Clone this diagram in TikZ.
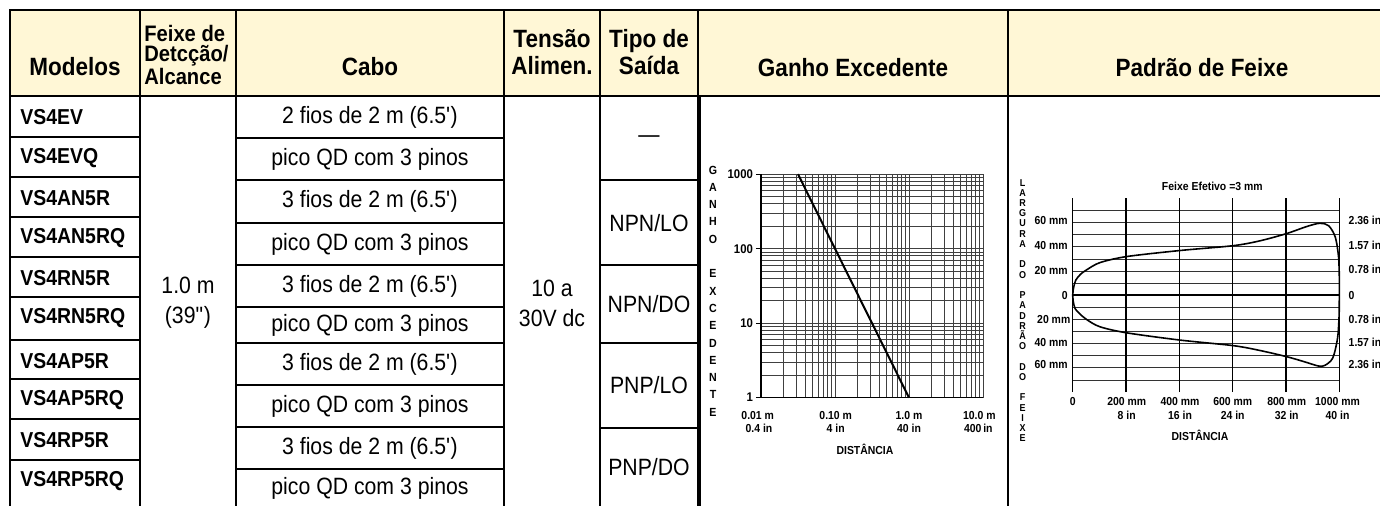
\documentclass[tikz,border=0pt]{standalone}
\usepackage{fontspec}
\setmainfont{Liberation Sans}[FakeStretch=0.9]
\definecolor{hdrfill}{RGB}{255,247,214}
\tikzset{
  cell/.style={draw=black,line width=1.1pt},
  hdrtxt/.style={font=\fontsize{12.5}{13.3}\selectfont\bfseries,inner sep=0pt,align=center},
  modeltxt/.style={font=\fontsize{10.8}{12}\selectfont\bfseries,inner sep=0pt,anchor=west},
  celltxt/.style={font=\fontsize{11.8}{15}\selectfont,inner sep=0pt,align=center},
  axtxt/.style={font=\fontsize{5.8}{6}\selectfont\bfseries,inner sep=0pt},
  stacktxt/.style={inner sep=0pt,align=center},
  gridline/.style={draw=black!75,line width=0.45pt},
}
\begin{document}
\begin{tikzpicture}[x=0.5pt,y=-0.5pt]
 \useasboundingbox (0,0) rectangle (1380,506);
 \clip (0,0) rectangle (1380,506);
 % header row
 \draw[cell,fill=hdrfill] (10,10) rectangle (1420,96);
 \foreach \xx in {140,236,504,600,698,1008}
   \draw[cell] (\xx,10) -- (\xx,96);
 \node[hdrtxt] (hmod) at (75,67) {Modelos};
 \node[hdrtxt,align=left,anchor=west,font=\fontsize{11.2}{10.2}\selectfont\bfseries] (hfeixe) at (144,55) {Feixe de\\Detcção/\\Alcance};
 \node[hdrtxt] (hcabo) at (370,67) {Cabo};
 \node[hdrtxt] (htensao) at (552,52) {Tensão\\Alimen.};
 \node[hdrtxt] (htipo) at (649,52) {Tipo de\\Saída};
 \node[hdrtxt] (hganho) at (853,68) {Ganho Excedente};
 \node[hdrtxt] (hpadrao) at (1202,68) {Padrão de Feixe};
 % body columns
 \draw[cell] (140,96) rectangle (236,530);
 \draw[cell] (504,96) rectangle (600,530);
 \draw[cell] (700,96) rectangle (1008,530);
 \draw[cell] (1008,96) rectangle (1420,530);
 % models
 \foreach \nm/\ya/\yb [count=\i] in {VS4EV/96/137,VS4EVQ/137/177,VS4AN5R/177/217,VS4AN5RQ/217/257,
   VS4RN5R/257/297,VS4RN5RQ/297/340,VS4AP5R/340/379,VS4AP5RQ/379/419,VS4RP5R/419/460,VS4RP5RQ/460/530}{
   \draw[cell] (10,\ya) rectangle (140,\yb);
   \node[modeltxt] (m\i) at (20,{\ya+21}) {\nm};
 }
 % cables
 \foreach \cb/\ya/\yb/\ty [count=\i] in {2 fios de 2 m (6.5\textquotesingle)/96/138/117,pico QD com 3 pinos/138/180/159,
   3 fios de 2 m (6.5\textquotesingle)/180/223/201,pico QD com 3 pinos/223/265/244,3 fios de 2 m (6.5\textquotesingle)/265/307/286,
   pico QD com 3 pinos/307/343/325,3 fios de 2 m (6.5\textquotesingle)/343/385/364,pico QD com 3 pinos/385/427/406,
   3 fios de 2 m (6.5\textquotesingle)/427/469/448,pico QD com 3 pinos/469/530/488}{
   \draw[cell] (236,\ya) rectangle (504,\yb);
   \node[celltxt] (c\i) at (370,\ty) {\cb};
 }
 \node[celltxt] (range) at (188,303) {1.0 m\\(39\textquotedbl)};
 \node[celltxt] (volt) at (552,303) {10 a\\30V dc};
 % output types
 \draw[cell] (600,96) rectangle (698,180);
 \draw[cell] (600,180) rectangle (698,265);
 \draw[cell] (600,265) rectangle (698,343);
 \draw[cell] (600,343) rectangle (698,428);
 \draw[cell] (600,428) rectangle (698,530);
 \node[celltxt] (t1) at (649,139) {\textemdash};
 \node[celltxt] (t2) at (649,223) {NPN/LO};
 \node[celltxt] (t3) at (649,304) {NPN/DO};
 \node[celltxt] (t4) at (649,385) {PNP/LO};
 \node[celltxt] (t5) at (649,467) {PNP/DO};
 % excess gain chart
 \begin{scope}[shift={(761,397.7)},x=37pt,y=37.25pt]
   \foreach \e in {0,1,2}
     \foreach \k in {1,...,9}{
       \draw[gridline] ({\e+log10(\k)},0) -- ({\e+log10(\k)},3);
       \draw[gridline] (0,{\e+log10(\k)}) -- (3,{\e+log10(\k)});
     }
   \draw[gridline] (3,0) -- (3,3);
   \draw[gridline] (0,3) -- (3,3);
   \draw[line width=0.6pt] (0,3) -- (0,0) -- (3,0);
   \foreach \t in {0,1,2,3}
     \draw[line width=0.5pt] (-0.07,\t) -- (0,\t);
   \draw[line width=1pt] (0.5,3) -- (2,0);
 \end{scope}
 \node[stacktxt,font=\fontsize{5.9}{8.65}\selectfont\bfseries] (gstack) at (713,291)
   {G\\A\\N\\H\\O\\ \\E\\X\\C\\E\\D\\E\\N\\T\\E};
 \foreach \v/\yy in {1000/174.3,100/249,10/323.3,1/397.3}
   \node[axtxt,anchor=east,font=\fontsize{6.3}{6}\selectfont\bfseries] (gy\v) at (753.3,\yy) {\v};
 \node[axtxt] (gx1) at (757.7,416) {0.01 m};
 \node[axtxt] (gx1i) at (759,428.3) {0.4 in};
 \node[axtxt] (gx2) at (835.7,416) {0.10 m};
 \node[axtxt] (gx2i) at (835.7,428.3) {4 in};
 \node[axtxt] (gx3) at (909,416) {1.0 m};
 \node[axtxt] (gx3i) at (909,428.3) {40 in};
 \node[axtxt] (gx4) at (979.3,416) {10.0 m};
 \node[axtxt] (gx4i) at (978.3,428.3) {400\,in};
 \node[axtxt] (gdist) at (865,449.3) {DISTÂNCIA};
 % beam pattern chart
 \begin{scope}[shift={(1072.7,295.3)},x=0.1333pt,y=0.605pt]
   \foreach \h in {-70,-60,...,70}
     \draw[gridline,draw=black!80] (0,\h) -- (1000,\h);
   \foreach \v in {0,200,...,1000}
     \draw[line width=0.6pt] (\v,-80) -- (\v,80);
   \draw[line width=1.1pt] (0,0) -- (1000,0);
   \draw[line width=0.8pt] plot[smooth,tension=0.5] coordinates {
     (0,0) (3,6) (12,12.7) (30,17.5) (52,21) (102,27) (202,32) (402,37) (602,41) (702,45)
     (802,51) (880,57) (927,59.5) (960,57.5) (985,48) (997,32) (1000,15) (1000,0)
     (999,-18) (993,-36) (975,-52) (945,-58) (921,-58.4) (870,-55) (802,-50.7) (700,-45.5)
     (602,-41.6) (402,-37) (202,-31) (102,-26) (52,-20) (25,-15) (9,-11) (2,-5) (0,0)};
 \end{scope}
 \node[axtxt] (ptitle) at (1212.3,186) {Feixe Efetivo =3 mm};
 \node[stacktxt,font=\fontsize{5}{5.115}\selectfont\bfseries] (pstack) at (1022.7,310.5)
   {L\\A\\R\\G\\U\\R\\A\\ \\D\\O\\ \\P\\A\\D\\R\\Ã\\O\\ \\D\\O\\ \\F\\E\\I\\X\\E};
 \foreach \lb/\xx/\yy [count=\i] in {60 mm/1068/220.7,40 mm/1068/246,20 mm/1068/270.7,0/1068/295.3,
   20 mm/1070.7/320,40 mm/1068/342.3,60 mm/1068/364.3}
   \node[axtxt,anchor=east] (pl\i) at (\xx,\yy) {\lb};
 \foreach \lb/\yy [count=\i] in {2.36 in/220.7,1.57 in/245,0.78 in/269.3,0/295.3,
   0.78 in/319.3,1.57 in/342.3,2.36 in/364.3}
   \node[axtxt,anchor=west] (pr\i) at (1348.3,\yy) {\lb};
 \node[axtxt] (px0) at (1072.7,401.7) {0};
 \foreach \mm/\inch/\xx [count=\i] in {200/8/1126.7,400/16/1180,600/24/1232.7,800/32/1286.7,1000/40/1337.5}{
   \node[axtxt] (px\i) at (\xx,401.7) {\mm{} mm};
   \node[axtxt] (pxi\i) at (\xx,415.3) {\inch{} in};
 }
 \node[axtxt] (pdist) at (1200,435) {DISTÂNCIA};
\end{tikzpicture}
\end{document}
